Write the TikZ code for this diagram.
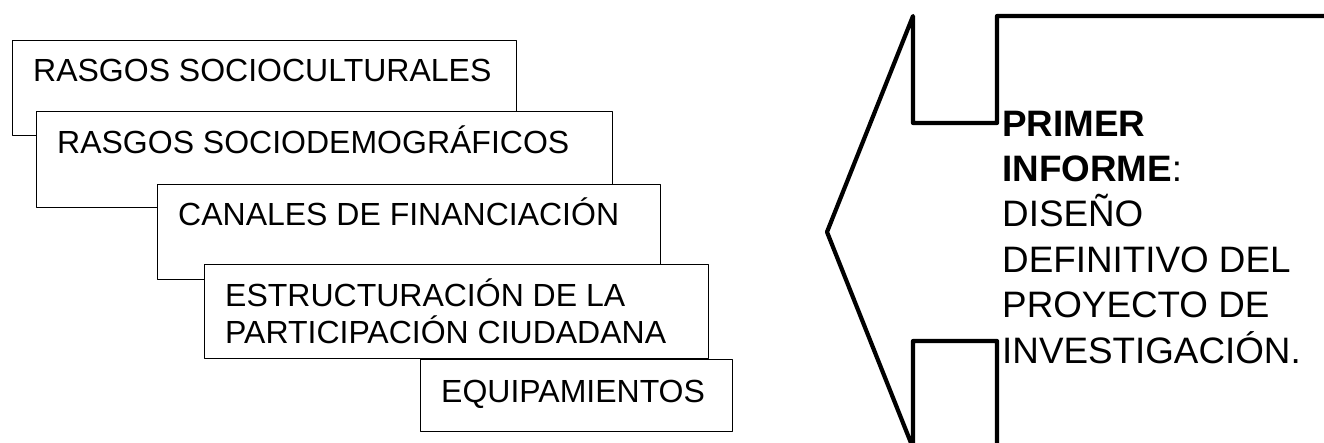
\documentclass[tikz,border=0pt]{standalone}
\usepackage{fontspec}
\setmainfont{Liberation Sans}

\tikzset{
  stackbox/.style={draw,line width=1.2pt,fill=white,inner sep=0pt,anchor=north west},
  boxtext/.style={inner sep=0pt,anchor=base west,align=left,
    font=\fontsize{32}{37}\selectfont},
  reporttext/.style={inner sep=0pt,anchor=base west,align=left,
    font=\fontsize{36.8}{45.4}\selectfont},
}

\begin{document}
\begin{tikzpicture}[x=1pt,y=-1pt,line join=round]
   \useasboundingbox (0,0) rectangle (1324,443);
   \clip (0,0) rectangle (1324,443);
   % Stacked boxes, each one drawn over the one before
   \node [stackbox,minimum width=504pt,minimum height=95pt] (soc) at (12,40) {};
   \node [boxtext] (soctext) at ([shift={(21,42)}]soc.north west) {RASGOS SOCIOCULTURALES};
   \node [stackbox,minimum width=576pt,minimum height=96pt] (dem) at (36,111) {};
   \node [boxtext] (demtext) at ([shift={(21,43)}]dem.north west) {RASGOS SOCIODEMOGRÁFICOS};
   \node [stackbox,minimum width=503pt,minimum height=95pt] (fin) at (157,184) {};
   \node [boxtext] (fintext) at ([shift={(21,42)}]fin.north west) {CANALES DE FINANCIACIÓN};
   \node [stackbox,minimum width=504pt,minimum height=94pt] (par) at (204,264) {};
   % (base of a two-line node is its last line)
   \node [boxtext] (partext) at ([shift={(21,79)}]par.north west) {ESTRUCTURACIÓN DE LA\\PARTICIPACIÓN CIUDADANA};
   \node [stackbox,minimum width=312pt,minimum height=72pt] (equ) at (420,359) {};
   \node [boxtext] (equtext) at ([shift={(21,43)}]equ.north west) {EQUIPAMIENTOS};
   % Left arrow callout (cut by the picture's edges)
   \coordinate (tip) at (827,232);
   \draw [line width=4.2pt]
        (tip) -- (913,16) -- (913,123) -- (997,123) -- (997,16) -- (1360,16)
        -- (1360,470) -- (997,470) -- (997,341) -- (913,341) -- (913,448) -- cycle;
   % Callout text
   \node [reporttext] (report) at (1002,363)
        {\textbf{PRIMER}\\\textbf{INFORME}:\\DISEÑO\\DEFINITIVO DEL\\PROYECTO DE\\INVESTIGACIÓN.};
\end{tikzpicture}
\end{document}
